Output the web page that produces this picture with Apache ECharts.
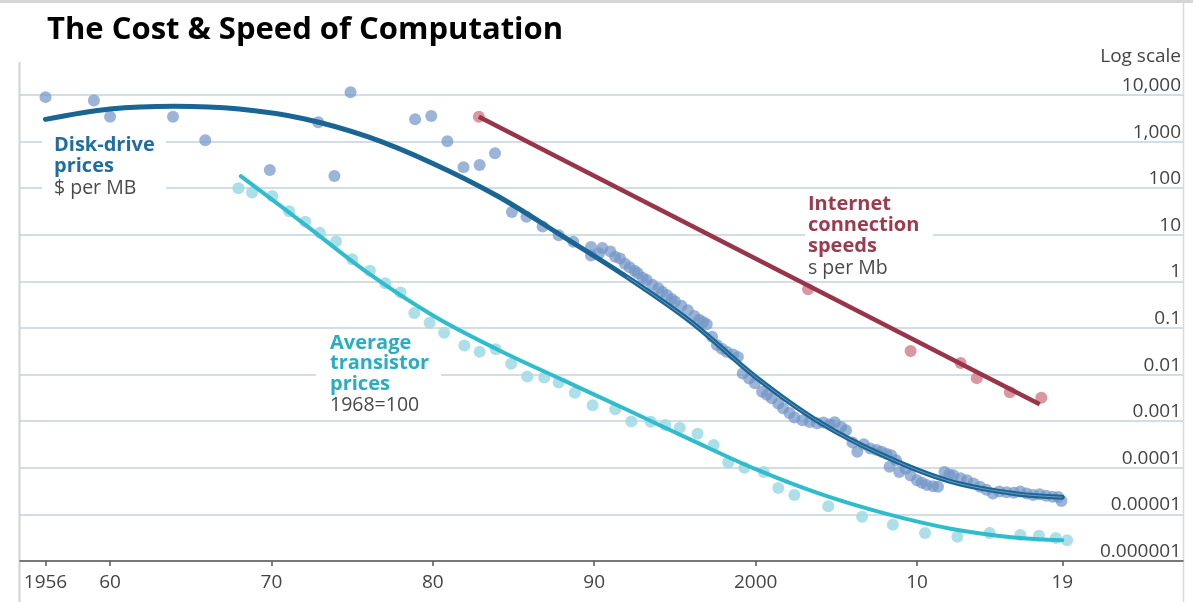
<!DOCTYPE html>
<html>
<head>
<meta charset="utf-8">
<script src="https://cdn.jsdelivr.net/npm/echarts@6/dist/echarts.min.js"></script>
<style>
html,body{margin:0;padding:0;background:#fff;}
#chart{width:1193px;height:602px;}
</style>
</head>
<body>
<div id="chart"></div>
<script>
// ---------- DATA ----------
const xTickValues = [1956, 1960, 1970, 1980, 1990, 2000, 2010, 2019];
const xTickLabels = ['1956', '60', '70', '80', '90', '2000', '10', '19'];
const yTickLabels = ['0.000001', '0.00001', '0.0001', '0.001', '0.01', '0.1', '1', '10', '100', '1,000', '10,000'];

// Disk-drive prices, $ per MB
const diskPoints = [
  [1956.0, 9000], [1959.0, 7600], [1960.0, 3400], [1963.9, 3400], [1965.9, 1070],
  [1969.9, 245], [1972.9, 2600], [1973.9, 182], [1974.9, 11500], [1978.9, 3000],
  [1979.9, 3550], [1980.9, 1020], [1981.9, 280], [1982.9, 315], [1983.85, 560],
  [1984.9, 31], [1985.8, 24.5], [1986.8, 15], [1987.8, 9.8], [1988.7, 7.1],
  [1989.8, 5.5], [1989.8, 3.6], [1990.5, 5.2], [1990.3, 4.0], [1991.0, 4.4],
  [1991.3, 3.4], [1991.6, 3.1], [1991.9, 2.4], [1992.2, 2.0], [1992.5, 1.7],
  [1992.7, 1.5], [1993.0, 1.2], [1993.25, 1.07], [1993.6, 0.85], [1993.97, 0.71],
  [1994.2, 0.6], [1994.5, 0.51], [1994.8, 0.42], [1995.0, 0.37], [1995.4, 0.3],
  [1995.8, 0.24], [1996.2, 0.18], [1996.5, 0.15], [1996.75, 0.135], [1996.97, 0.12],
  [1997.3, 0.065], [1997.6, 0.043], [1997.9, 0.036], [1998.2, 0.031], [1998.6, 0.027],
  [1998.9, 0.024], [1999.2, 0.0105], [1999.6, 0.0082], [1999.96, 0.0065], [2000.4, 0.0043],
  [2000.7, 0.0037], [2001.0, 0.0031], [2001.4, 0.0024], [2001.7, 0.0019], [2002.1, 0.0015],
  [2002.4, 0.0012], [2002.9, 0.00105], [2003.35, 0.00096], [2003.8, 0.0009], [2004.2, 0.00094],
  [2004.6, 0.00085], [2004.9, 0.00095], [2005.3, 0.00075], [2005.6, 0.00064], [2006.0, 0.00035],
  [2006.3, 0.00022], [2006.7, 0.00032], [2007.1, 0.00026], [2007.5, 0.00024], [2007.8, 0.00022],
  [2008.1, 0.0002], [2008.4, 0.000186], [2008.3, 0.000105], [2008.7, 0.000145], [2008.9, 0.000081],
  [2009.3, 0.000095], [2009.6, 0.000068], [2010.0, 0.000054], [2010.3, 0.000048], [2010.6, 0.000043],
  [2011.0, 0.00004], [2011.3, 0.000039], [2011.7, 0.000081], [2012.0, 0.000072], [2012.25, 0.000069],
  [2012.7, 0.00006], [2013.1, 0.000054], [2013.5, 0.000046], [2013.9, 0.000039], [2014.3, 0.000034],
  [2014.7, 0.000028], [2015.1, 0.000031], [2015.55, 0.00003], [2016.0, 0.000029], [2016.4, 0.000031],
  [2016.8, 0.000028], [2017.2, 0.000026], [2017.6, 0.000027], [2018.0, 0.000025], [2018.4, 0.000024],
  [2018.75, 0.0000235], [2018.95, 0.0000195]
];
const diskCurve = [
  [1956, 3000], [1960, 5000], [1964, 5750], [1968, 5000], [1972, 3100],
  [1976, 1260], [1980, 340], [1984, 68], [1988, 9.5], [1992, 1.26],
  [1996, 0.135], [2000, 0.0089], [2004, 0.00093], [2008, 0.000178], [2012, 0.000052],
  [2016, 0.0000282], [2019, 0.0000234]
];

// Average transistor prices, 1968 = 100
const transistorPoints = [
  [1967.95, 100], [1968.8, 81], [1970.05, 68], [1971.1, 32], [1972.1, 19],
  [1973.0, 11], [1974.0, 7.2], [1975.0, 3.0], [1976.1, 1.7], [1977.05, 0.91],
  [1978.0, 0.58], [1978.85, 0.21], [1979.8, 0.13], [1980.7, 0.079], [1981.95, 0.042],
  [1982.9, 0.031], [1983.9, 0.035], [1984.85, 0.017], [1985.85, 0.0091], [1986.9, 0.0087],
  [1987.8, 0.0068], [1988.8, 0.0041], [1989.9, 0.0022], [1991.3, 0.0018], [1992.3, 0.00098],
  [1993.5, 0.00097], [1994.4, 0.00083], [1995.3, 0.00072], [1996.4, 0.00054], [1997.4, 0.00031],
  [1998.3, 0.00013], [1999.3, 0.0001], [2000.5, 0.000081], [2001.4, 0.000037], [2002.4, 0.000026],
  [2004.5, 0.000015], [2006.6, 0.0000089], [2008.5, 0.000006], [2010.5, 0.000004], [2012.5, 0.0000033],
  [2014.5, 0.000004], [2016.4, 0.0000036], [2017.55, 0.0000035], [2018.6, 0.0000031], [2019.3, 0.0000028]
];
const transistorCurve = [
  [1968.1, 182], [1972, 17.4], [1976, 1.5], [1980, 0.186], [1984, 0.0347],
  [1988, 0.0078], [1992, 0.00178], [1996, 0.000398], [2000, 0.0000933], [2004, 0.0000275],
  [2008, 0.0000105], [2012, 0.000005], [2016, 0.0000032], [2019, 0.0000028]
];

// Internet connection speeds, s per Mb
const internetPoints = [
  [1982.85, 3400], [2003.25, 0.68], [2009.6, 0.032], [2012.7, 0.0177], [2013.7, 0.0084],
  [2015.75, 0.0042], [2017.7, 0.0032]
];
const internetLine = [[1982.85, 3400], [2017.6, 0.0023]];

// ---------- CHART ----------
const FONT = '"Open Sans", "Noto Sans", sans-serif';
const chart = echarts.init(document.getElementById('chart'), null, {renderer: 'canvas'});

function annotation(x, lines, box, color) {
  const els = [{
    type: 'rect', z: 1, silent: true,
    shape: {x: box[0], y: box[1], width: box[2], height: box[3]},
    style: {fill: '#ffffff'}
  }];
  lines.forEach(function (l) {
    els.push({
      type: 'text', z: 1, silent: true,
      x: x, y: l[1],
      style: {
        text: l[0], fill: l[2] ? color : '#4a4a4a',
        font: (l[2] ? 'bold 20px ' : '19.5px ') + FONT,
        textAlign: 'left', textVerticalAlign: 'middle'
      }
    });
  });
  return els;
}

const graphics = [].concat(
  [
    {type: 'rect', z: 0, silent: true, shape: {x: 0, y: 0, width: 1193, height: 3}, style: {fill: '#d6d6d6'}},
    {type: 'line', z: 0, silent: true, shape: {x1: 19.5, y1: 62, x2: 19.5, y2: 602}, style: {stroke: '#d2d2d2', lineWidth: 2}},
    {type: 'line', z: 0, silent: true, shape: {x1: 1183.5, y1: 3, x2: 1183.5, y2: 602}, style: {stroke: '#dadada', lineWidth: 1.5}}
  ],
  annotation(54, [['Disk-drive', 145, true], ['prices', 166.5, true], ['$ per MB', 188, false]], [42, 133, 124, 66], '#1f6e9e'),
  annotation(330, [['Average', 343, true], ['transistor', 363.5, true], ['prices', 384, true], ['1968=100', 405.5, false]], [316, 360, 125, 30], '#29adc2'),
  annotation(808, [['Internet', 204, true], ['connection', 225, true], ['speeds', 246, true], ['s per Mb', 268, false]], [805, 220, 128, 28], '#9c3a4e')
);

const option = {
  backgroundColor: '#ffffff',
  animation: false,
  title: {
    text: 'The Cost & Speed of Computation',
    left: 42, top: 10,
    textStyle: {fontFamily: FONT, fontWeight: 'bold', fontSize: 31, color: '#000'}
  },
  grid: {left: 20, right: 10, top: 95, bottom: 41, containLabel: false, outerBoundsMode: 'none'},
  xAxis: {
    type: 'value',
    min: 1954.42, max: 2026.48,
    splitLine: {show: false},
    axisLine: {show: true, lineStyle: {color: '#555', width: 1.5}},
    axisTick: {show: true, customValues: xTickValues, length: 5, lineStyle: {color: '#555', width: 1.5}},
    axisLabel: {
      customValues: xTickValues,
      margin: 12,
      fontFamily: FONT, fontSize: 19, color: '#444',
      formatter: function (v) {
        const i = xTickValues.indexOf(Math.round(v));
        return i >= 0 ? xTickLabels[i] : '';
      }
    }
  },
  yAxis: {
    type: 'log', logBase: 10,
    min: 1e-6, max: 1e4,
    interval: 1,
    position: 'right',
    name: 'Log scale',
    nameLocation: 'end',
    nameGap: 38,
    nameTextStyle: {fontFamily: FONT, fontSize: 19, color: '#444', align: 'right', verticalAlign: 'middle', padding: [0, 2, 0, 0]},
    axisLine: {show: false},
    axisTick: {show: false},
    splitLine: {show: true, lineStyle: {color: '#c6d2db', width: 1.6}},
    axisLabel: {
      inside: true, margin: 2,
      verticalAlign: 'bottom',
      fontFamily: FONT, fontSize: 19, color: '#444',
      formatter: function (v) {
        const i = Math.round(Math.log10(v)) + 6;
        return yTickLabels[i] !== undefined ? yTickLabels[i] : '';
      }
    }
  },
  graphic: graphics,
  series: [
    {
      name: 'Disk-drive points', type: 'scatter', data: diskPoints, clip: false,
      symbolSize: 12, z: 2,
      itemStyle: {color: '#7194c6', opacity: 0.7}
    },
    {
      name: 'Transistor points', type: 'scatter', data: transistorPoints, clip: false,
      symbolSize: 12, z: 2,
      itemStyle: {color: '#9fd9e4', opacity: 0.85}
    },
    {
      name: 'Internet points', type: 'scatter', data: internetPoints, clip: false,
      symbolSize: 12, z: 2,
      itemStyle: {color: '#d48490', opacity: 0.85}
    },
    {
      name: 'Disk-drive prices', type: 'line', data: diskCurve, clip: false,
      smooth: 0.35, showSymbol: false, z: 3,
      lineStyle: {color: '#1a6594', width: 5, cap: 'round'}
    },
    {
      name: 'Disk-drive highlight', type: 'line', data: diskCurve.filter(function (d) { return d[0] >= 1992; }), clip: false,
      smooth: 0.35, showSymbol: false, z: 4,
      lineStyle: {color: '#dbe8f2', width: 0.7, opacity: 0.6}
    },
    {
      name: 'Average transistor prices', type: 'line', data: transistorCurve, clip: false,
      smooth: 0.35, showSymbol: false, z: 3,
      lineStyle: {color: '#2fbccd', width: 4, cap: 'round'}
    },
    {
      name: 'Internet connection speeds', type: 'line', data: internetLine, clip: false,
      showSymbol: false, z: 3,
      lineStyle: {color: '#98354a', width: 4.5}
    }
  ]
};
chart.setOption(option);
</script>
</body>
</html>
